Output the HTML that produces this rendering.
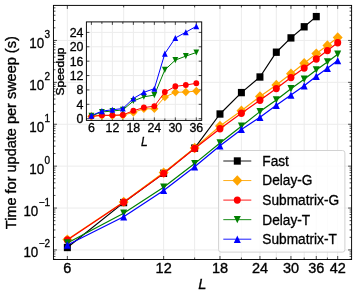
<!DOCTYPE html>
<html><head><meta charset="utf-8"><title>plot</title><style>html,body{margin:0;padding:0;background:#fff}body{width:357px;height:297px;overflow:hidden}</style></head><body>
<svg width="357" height="297" viewBox="0 0 357 297" style="display:block;font-family:'Liberation Sans',sans-serif">
<rect width="357" height="297" fill="#fff"/>
<path d="M67.35 5.4V259.5M123.68 5.4V259.5M163.65 5.4V259.5M194.65 5.4V259.5M219.98 5.4V259.5M241.4 5.4V259.5M259.95 5.4V259.5M276.31 5.4V259.5M290.95 5.4V259.5M304.19 5.4V259.5M316.28 5.4V259.5M327.4 5.4V259.5M337.7 5.4V259.5M53.45 249.95H351.6M53.45 208.05H351.6M53.45 166.15H351.6M53.45 124.25H351.6M53.45 82.35H351.6M53.45 40.45H351.6" stroke="#ececec" stroke-width="1" fill="none"/>
<path d="M67.35 259.5v-3.5M67.35 5.4v3.5M123.68 259.5v-2M123.68 5.4v2M163.65 259.5v-3.5M163.65 5.4v3.5M194.65 259.5v-2M194.65 5.4v2M219.98 259.5v-3.5M219.98 5.4v3.5M241.4 259.5v-2M241.4 5.4v2M259.95 259.5v-3.5M259.95 5.4v3.5M276.31 259.5v-2M276.31 5.4v2M290.95 259.5v-3.5M290.95 5.4v3.5M304.19 259.5v-2M304.19 5.4v2M316.28 259.5v-3.5M316.28 5.4v3.5M327.4 259.5v-2M327.4 5.4v2M337.7 259.5v-3.5M337.7 5.4v3.5M53.45 259.25h2M351.6 259.25h-2M53.45 256.44h2M351.6 256.44h-2M53.45 254.01h2M351.6 254.01h-2M53.45 251.87h2M351.6 251.87h-2M53.45 249.95h3.5M351.6 249.95h-3.5M53.45 237.34h2M351.6 237.34h-2M53.45 229.96h2M351.6 229.96h-2M53.45 224.72h2M351.6 224.72h-2M53.45 220.66h2M351.6 220.66h-2M53.45 217.35h2M351.6 217.35h-2M53.45 214.54h2M351.6 214.54h-2M53.45 212.11h2M351.6 212.11h-2M53.45 209.97h2M351.6 209.97h-2M53.45 208.05h3.5M351.6 208.05h-3.5M53.45 195.44h2M351.6 195.44h-2M53.45 188.06h2M351.6 188.06h-2M53.45 182.82h2M351.6 182.82h-2M53.45 178.76h2M351.6 178.76h-2M53.45 175.45h2M351.6 175.45h-2M53.45 172.64h2M351.6 172.64h-2M53.45 170.21h2M351.6 170.21h-2M53.45 168.07h2M351.6 168.07h-2M53.45 166.15h3.5M351.6 166.15h-3.5M53.45 153.54h2M351.6 153.54h-2M53.45 146.16h2M351.6 146.16h-2M53.45 140.92h2M351.6 140.92h-2M53.45 136.86h2M351.6 136.86h-2M53.45 133.55h2M351.6 133.55h-2M53.45 130.74h2M351.6 130.74h-2M53.45 128.31h2M351.6 128.31h-2M53.45 126.17h2M351.6 126.17h-2M53.45 124.25h3.5M351.6 124.25h-3.5M53.45 111.64h2M351.6 111.64h-2M53.45 104.26h2M351.6 104.26h-2M53.45 99.02h2M351.6 99.02h-2M53.45 94.96h2M351.6 94.96h-2M53.45 91.65h2M351.6 91.65h-2M53.45 88.84h2M351.6 88.84h-2M53.45 86.41h2M351.6 86.41h-2M53.45 84.27h2M351.6 84.27h-2M53.45 82.35h3.5M351.6 82.35h-3.5M53.45 69.74h2M351.6 69.74h-2M53.45 62.36h2M351.6 62.36h-2M53.45 57.12h2M351.6 57.12h-2M53.45 53.06h2M351.6 53.06h-2M53.45 49.75h2M351.6 49.75h-2M53.45 46.94h2M351.6 46.94h-2M53.45 44.51h2M351.6 44.51h-2M53.45 42.37h2M351.6 42.37h-2M53.45 40.45h3.5M351.6 40.45h-3.5M53.45 27.84h2M351.6 27.84h-2M53.45 20.46h2M351.6 20.46h-2M53.45 15.22h2M351.6 15.22h-2M53.45 11.16h2M351.6 11.16h-2M53.45 7.85h2M351.6 7.85h-2" stroke="#111" stroke-width="0.75" fill="none"/>
<polyline points="67.35,247.50 123.68,202.60 163.65,173.30 194.65,148.10 219.98,114.00 241.40,92.60 259.95,77.00 276.31,52.20 290.95,37.90 304.19,26.80 316.28,16.60" fill="none" stroke="#000000" stroke-width="1.2" stroke-linejoin="round"/>
<rect x="63.85" y="243.82" width="7.00" height="7.35" fill="#000000"/>
<rect x="120.18" y="198.92" width="7.00" height="7.35" fill="#000000"/>
<rect x="160.15" y="169.62" width="7.00" height="7.35" fill="#000000"/>
<rect x="191.15" y="144.42" width="7.00" height="7.35" fill="#000000"/>
<rect x="216.48" y="110.33" width="7.00" height="7.35" fill="#000000"/>
<rect x="237.90" y="88.92" width="7.00" height="7.35" fill="#000000"/>
<rect x="256.45" y="73.33" width="7.00" height="7.35" fill="#000000"/>
<rect x="272.81" y="48.53" width="7.00" height="7.35" fill="#000000"/>
<rect x="287.45" y="34.23" width="7.00" height="7.35" fill="#000000"/>
<rect x="300.69" y="23.12" width="7.00" height="7.35" fill="#000000"/>
<rect x="312.78" y="12.93" width="7.00" height="7.35" fill="#000000"/>
<polyline points="67.35,239.60 123.68,201.90 163.65,172.60 194.65,148.00 219.98,126.00 241.40,110.80 259.95,96.50 276.31,85.00 290.95,73.70 304.19,63.20 316.28,53.60 327.40,45.40 337.70,37.50" fill="none" stroke="#FFA500" stroke-width="1.2" stroke-linejoin="round"/>
<polygon points="67.35,234.40 72.30,239.60 67.35,244.80 62.40,239.60" fill="#FFA500"/>
<polygon points="123.68,196.70 128.63,201.90 123.68,207.10 118.73,201.90" fill="#FFA500"/>
<polygon points="163.65,167.40 168.60,172.60 163.65,177.80 158.70,172.60" fill="#FFA500"/>
<polygon points="194.65,142.80 199.60,148.00 194.65,153.20 189.70,148.00" fill="#FFA500"/>
<polygon points="219.98,120.80 224.93,126.00 219.98,131.20 215.03,126.00" fill="#FFA500"/>
<polygon points="241.40,105.60 246.35,110.80 241.40,116.00 236.45,110.80" fill="#FFA500"/>
<polygon points="259.95,91.30 264.90,96.50 259.95,101.70 255.00,96.50" fill="#FFA500"/>
<polygon points="276.31,79.80 281.26,85.00 276.31,90.20 271.36,85.00" fill="#FFA500"/>
<polygon points="290.95,68.50 295.90,73.70 290.95,78.90 286.00,73.70" fill="#FFA500"/>
<polygon points="304.19,58.00 309.14,63.20 304.19,68.40 299.24,63.20" fill="#FFA500"/>
<polygon points="316.28,48.40 321.23,53.60 316.28,58.80 311.33,53.60" fill="#FFA500"/>
<polygon points="327.40,40.20 332.35,45.40 327.40,50.60 322.45,45.40" fill="#FFA500"/>
<polygon points="337.70,32.30 342.64,37.50 337.70,42.70 332.75,37.50" fill="#FFA500"/>
<polyline points="67.35,239.90 123.68,202.30 163.65,173.50 194.65,148.50 219.98,128.70 241.40,113.20 259.95,100.30 276.31,88.60 290.95,77.60 304.19,68.10 316.28,59.00 327.40,50.60 337.70,42.70" fill="none" stroke="#FF0000" stroke-width="1.2" stroke-linejoin="round"/>
<ellipse cx="67.35" cy="239.90" rx="3.50" ry="3.68" fill="#FF0000"/>
<ellipse cx="123.68" cy="202.30" rx="3.50" ry="3.68" fill="#FF0000"/>
<ellipse cx="163.65" cy="173.50" rx="3.50" ry="3.68" fill="#FF0000"/>
<ellipse cx="194.65" cy="148.50" rx="3.50" ry="3.68" fill="#FF0000"/>
<ellipse cx="219.98" cy="128.70" rx="3.50" ry="3.68" fill="#FF0000"/>
<ellipse cx="241.40" cy="113.20" rx="3.50" ry="3.68" fill="#FF0000"/>
<ellipse cx="259.95" cy="100.30" rx="3.50" ry="3.68" fill="#FF0000"/>
<ellipse cx="276.31" cy="88.60" rx="3.50" ry="3.68" fill="#FF0000"/>
<ellipse cx="290.95" cy="77.60" rx="3.50" ry="3.68" fill="#FF0000"/>
<ellipse cx="304.19" cy="68.10" rx="3.50" ry="3.68" fill="#FF0000"/>
<ellipse cx="316.28" cy="59.00" rx="3.50" ry="3.68" fill="#FF0000"/>
<ellipse cx="327.40" cy="50.60" rx="3.50" ry="3.68" fill="#FF0000"/>
<ellipse cx="337.70" cy="42.70" rx="3.50" ry="3.68" fill="#FF0000"/>
<polyline points="67.35,243.00 123.68,213.20 163.65,187.20 194.65,163.60 219.98,143.00 241.40,126.20 259.95,111.60 276.31,99.90 290.95,88.70 304.19,79.20 316.28,69.90 327.40,61.90 337.70,54.30" fill="none" stroke="#008000" stroke-width="1.2" stroke-linejoin="round"/>
<polygon points="67.35,246.68 70.85,239.32 63.85,239.32" fill="#008000"/>
<polygon points="123.68,216.88 127.18,209.52 120.18,209.52" fill="#008000"/>
<polygon points="163.65,190.88 167.15,183.52 160.15,183.52" fill="#008000"/>
<polygon points="194.65,167.28 198.15,159.92 191.15,159.92" fill="#008000"/>
<polygon points="219.98,146.68 223.48,139.32 216.48,139.32" fill="#008000"/>
<polygon points="241.40,129.88 244.90,122.53 237.90,122.53" fill="#008000"/>
<polygon points="259.95,115.27 263.45,107.92 256.45,107.92" fill="#008000"/>
<polygon points="276.31,103.58 279.81,96.23 272.81,96.23" fill="#008000"/>
<polygon points="290.95,92.38 294.45,85.03 287.45,85.03" fill="#008000"/>
<polygon points="304.19,82.88 307.69,75.53 300.69,75.53" fill="#008000"/>
<polygon points="316.28,73.58 319.78,66.23 312.78,66.23" fill="#008000"/>
<polygon points="327.40,65.58 330.90,58.23 323.90,58.23" fill="#008000"/>
<polygon points="337.70,57.97 341.20,50.62 334.20,50.62" fill="#008000"/>
<polyline points="67.35,245.00 123.68,216.70 163.65,190.40 194.65,166.80 219.98,145.80 241.40,129.40 259.95,117.20 276.31,105.20 290.95,95.10 304.19,85.80 316.28,76.30 327.40,68.20 337.70,60.60" fill="none" stroke="#0000FF" stroke-width="1.2" stroke-linejoin="round"/>
<polygon points="67.35,241.32 70.85,248.68 63.85,248.68" fill="#0000FF"/>
<polygon points="123.68,213.02 127.18,220.38 120.18,220.38" fill="#0000FF"/>
<polygon points="163.65,186.72 167.15,194.08 160.15,194.08" fill="#0000FF"/>
<polygon points="194.65,163.12 198.15,170.48 191.15,170.48" fill="#0000FF"/>
<polygon points="219.98,142.12 223.48,149.48 216.48,149.48" fill="#0000FF"/>
<polygon points="241.40,125.73 244.90,133.08 237.90,133.08" fill="#0000FF"/>
<polygon points="259.95,113.53 263.45,120.88 256.45,120.88" fill="#0000FF"/>
<polygon points="276.31,101.53 279.81,108.88 272.81,108.88" fill="#0000FF"/>
<polygon points="290.95,91.42 294.45,98.77 287.45,98.77" fill="#0000FF"/>
<polygon points="304.19,82.12 307.69,89.47 300.69,89.47" fill="#0000FF"/>
<polygon points="316.28,72.62 319.78,79.97 312.78,79.97" fill="#0000FF"/>
<polygon points="327.40,64.53 330.90,71.88 323.90,71.88" fill="#0000FF"/>
<polygon points="337.70,56.93 341.20,64.28 334.20,64.28" fill="#0000FF"/>
<rect x="53.45" y="5.4" width="298.15000000000003" height="254.1" fill="none" stroke="#000" stroke-width="0.95"/>
<text transform="translate(67.35,272.80) scale(1,1.03)" font-size="14.5" text-anchor="middle" stroke="#000" stroke-width="0.35">6</text>
<text transform="translate(163.65,272.80) scale(1,1.03)" font-size="14.5" text-anchor="middle" stroke="#000" stroke-width="0.35">12</text>
<text transform="translate(219.98,272.80) scale(1,1.03)" font-size="14.5" text-anchor="middle" stroke="#000" stroke-width="0.35">18</text>
<text transform="translate(259.95,272.80) scale(1,1.03)" font-size="14.5" text-anchor="middle" stroke="#000" stroke-width="0.35">24</text>
<text transform="translate(290.95,272.80) scale(1,1.03)" font-size="14.5" text-anchor="middle" stroke="#000" stroke-width="0.35">30</text>
<text transform="translate(316.28,272.80) scale(1,1.03)" font-size="14.5" text-anchor="middle" stroke="#000" stroke-width="0.35">36</text>
<text transform="translate(337.70,272.80) scale(1,1.03)" font-size="14.5" text-anchor="middle" stroke="#000" stroke-width="0.35">42</text>
<text transform="translate(50.05,247.35) scale(1,1.06)" font-size="10" text-anchor="end" stroke="#000" stroke-width="0.3">−2</text>
<text transform="translate(38.30,257.35) scale(1,1.16)" font-size="13.4" text-anchor="end" stroke="#000" stroke-width="0.3">10</text>
<text transform="translate(50.05,206.05) scale(1,1.06)" font-size="10" text-anchor="end" stroke="#000" stroke-width="0.3">−1</text>
<text transform="translate(38.30,216.05) scale(1,1.16)" font-size="13.4" text-anchor="end" stroke="#000" stroke-width="0.3">10</text>
<text transform="translate(50.05,164.15) scale(1,1.06)" font-size="10" text-anchor="end" stroke="#000" stroke-width="0.3">0</text>
<text transform="translate(44.14,174.15) scale(1,1.16)" font-size="13.4" text-anchor="end" stroke="#000" stroke-width="0.3">10</text>
<text transform="translate(50.05,122.15) scale(1,1.06)" font-size="10" text-anchor="end" stroke="#000" stroke-width="0.3">1</text>
<text transform="translate(44.14,132.15) scale(1,1.16)" font-size="13.4" text-anchor="end" stroke="#000" stroke-width="0.3">10</text>
<text transform="translate(50.05,80.45) scale(1,1.06)" font-size="10" text-anchor="end" stroke="#000" stroke-width="0.3">2</text>
<text transform="translate(44.14,90.45) scale(1,1.16)" font-size="13.4" text-anchor="end" stroke="#000" stroke-width="0.3">10</text>
<text transform="translate(50.05,37.85) scale(1,1.06)" font-size="10" text-anchor="end" stroke="#000" stroke-width="0.3">3</text>
<text transform="translate(44.14,47.85) scale(1,1.16)" font-size="13.4" text-anchor="end" stroke="#000" stroke-width="0.3">10</text>
<text transform="translate(202.30,288.60) scale(1,0.96)" font-size="14.67" text-anchor="middle" font-style="italic" stroke="#000" stroke-width="0.3">L</text>
<text transform="translate(16.20,132.70) rotate(-90) scale(1,1)" font-size="14.5" text-anchor="middle" stroke="#000" stroke-width="0.35">Time for update per sweep (s)</text>
<rect x="86.4" y="21.9" width="115.29999999999998" height="98.5" fill="#fff"/>
<path d="M91.4 21.9V120.4M101.89 21.9V120.4M112.38 21.9V120.4M122.87 21.9V120.4M133.36 21.9V120.4M143.86 21.9V120.4M154.35 21.9V120.4M164.84 21.9V120.4M175.33 21.9V120.4M185.82 21.9V120.4M196.31 21.9V120.4M86.4 118.7H201.7M86.4 104.32H201.7M86.4 89.93H201.7M86.4 75.55H201.7M86.4 61.16H201.7M86.4 46.78H201.7M86.4 32.4H201.7" stroke="#ececec" stroke-width="1" fill="none"/>
<path d="M91.4 120.4v-3M91.4 21.9v3M101.89 120.4v-2M101.89 21.9v2M112.38 120.4v-3M112.38 21.9v3M122.87 120.4v-2M122.87 21.9v2M133.36 120.4v-3M133.36 21.9v3M143.86 120.4v-2M143.86 21.9v2M154.35 120.4v-3M154.35 21.9v3M164.84 120.4v-2M164.84 21.9v2M175.33 120.4v-3M175.33 21.9v3M185.82 120.4v-2M185.82 21.9v2M196.31 120.4v-3M196.31 21.9v3M86.4 118.7h3M201.7 118.7h-3M86.4 104.32h3M201.7 104.32h-3M86.4 89.93h3M201.7 89.93h-3M86.4 75.55h3M201.7 75.55h-3M86.4 61.16h3M201.7 61.16h-3M86.4 46.78h3M201.7 46.78h-3M86.4 32.4h3M201.7 32.4h-3" stroke="#111" stroke-width="0.75" fill="none"/>
<polyline points="91.40,116.40 101.89,115.40 112.38,115.40 122.87,115.20 133.36,112.40 143.86,108.80 154.35,108.80 164.84,97.00 175.33,92.30 185.82,92.00 196.31,91.10" fill="none" stroke="#FFA500" stroke-width="1" stroke-linejoin="round"/>
<polygon points="91.40,112.09 95.50,116.40 91.40,120.71 87.30,116.40" fill="#FFA500"/>
<polygon points="101.89,111.09 105.99,115.40 101.89,119.71 97.79,115.40" fill="#FFA500"/>
<polygon points="112.38,111.09 116.48,115.40 112.38,119.71 108.28,115.40" fill="#FFA500"/>
<polygon points="122.87,110.89 126.97,115.20 122.87,119.51 118.77,115.20" fill="#FFA500"/>
<polygon points="133.36,108.09 137.46,112.40 133.36,116.71 129.26,112.40" fill="#FFA500"/>
<polygon points="143.86,104.49 147.96,108.80 143.86,113.11 139.75,108.80" fill="#FFA500"/>
<polygon points="154.35,104.49 158.45,108.80 154.35,113.11 150.25,108.80" fill="#FFA500"/>
<polygon points="164.84,92.69 168.94,97.00 164.84,101.31 160.74,97.00" fill="#FFA500"/>
<polygon points="175.33,87.99 179.43,92.30 175.33,96.61 171.23,92.30" fill="#FFA500"/>
<polygon points="185.82,87.69 189.92,92.00 185.82,96.31 181.72,92.00" fill="#FFA500"/>
<polygon points="196.31,86.79 200.41,91.10 196.31,95.41 192.21,91.10" fill="#FFA500"/>
<polyline points="91.40,116.30 101.89,115.30 112.38,115.30 122.87,114.90 133.36,110.70 143.86,107.60 154.35,106.20 164.84,92.10 175.33,86.40 185.82,85.00 196.31,83.30" fill="none" stroke="#FF0000" stroke-width="1" stroke-linejoin="round"/>
<ellipse cx="91.40" cy="116.30" rx="2.90" ry="3.04" fill="#FF0000"/>
<ellipse cx="101.89" cy="115.30" rx="2.90" ry="3.04" fill="#FF0000"/>
<ellipse cx="112.38" cy="115.30" rx="2.90" ry="3.04" fill="#FF0000"/>
<ellipse cx="122.87" cy="114.90" rx="2.90" ry="3.04" fill="#FF0000"/>
<ellipse cx="133.36" cy="110.70" rx="2.90" ry="3.04" fill="#FF0000"/>
<ellipse cx="143.86" cy="107.60" rx="2.90" ry="3.04" fill="#FF0000"/>
<ellipse cx="154.35" cy="106.20" rx="2.90" ry="3.04" fill="#FF0000"/>
<ellipse cx="164.84" cy="92.10" rx="2.90" ry="3.04" fill="#FF0000"/>
<ellipse cx="175.33" cy="86.40" rx="2.90" ry="3.04" fill="#FF0000"/>
<ellipse cx="185.82" cy="85.00" rx="2.90" ry="3.04" fill="#FF0000"/>
<ellipse cx="196.31" cy="83.30" rx="2.90" ry="3.04" fill="#FF0000"/>
<polyline points="91.40,115.90 101.89,112.00 112.38,111.00 122.87,109.90 133.36,101.00 143.86,96.80 154.35,95.10 164.84,69.90 175.33,60.10 185.82,56.10 196.31,52.50" fill="none" stroke="#008000" stroke-width="1" stroke-linejoin="round"/>
<polygon points="91.40,118.95 94.30,112.86 88.50,112.86" fill="#008000"/>
<polygon points="101.89,115.05 104.79,108.95 98.99,108.95" fill="#008000"/>
<polygon points="112.38,114.05 115.28,107.95 109.48,107.95" fill="#008000"/>
<polygon points="122.87,112.95 125.77,106.86 119.97,106.86" fill="#008000"/>
<polygon points="133.36,104.05 136.26,97.95 130.46,97.95" fill="#008000"/>
<polygon points="143.86,99.84 146.76,93.75 140.96,93.75" fill="#008000"/>
<polygon points="154.35,98.14 157.25,92.05 151.45,92.05" fill="#008000"/>
<polygon points="164.84,72.95 167.74,66.86 161.94,66.86" fill="#008000"/>
<polygon points="175.33,63.15 178.23,57.05 172.43,57.05" fill="#008000"/>
<polygon points="185.82,59.15 188.72,53.05 182.92,53.05" fill="#008000"/>
<polygon points="196.31,55.55 199.21,49.45 193.41,49.45" fill="#008000"/>
<polyline points="91.40,115.60 101.89,111.10 112.38,109.80 122.87,108.50 133.36,98.50 143.86,92.30 154.35,88.70 164.84,53.60 175.33,38.00 185.82,32.20 196.31,26.30" fill="none" stroke="#0000FF" stroke-width="1" stroke-linejoin="round"/>
<polygon points="91.40,112.55 94.30,118.64 88.50,118.64" fill="#0000FF"/>
<polygon points="101.89,108.05 104.79,114.14 98.99,114.14" fill="#0000FF"/>
<polygon points="112.38,106.75 115.28,112.84 109.48,112.84" fill="#0000FF"/>
<polygon points="122.87,105.45 125.77,111.55 119.97,111.55" fill="#0000FF"/>
<polygon points="133.36,95.45 136.26,101.55 130.46,101.55" fill="#0000FF"/>
<polygon points="143.86,89.25 146.76,95.34 140.96,95.34" fill="#0000FF"/>
<polygon points="154.35,85.66 157.25,91.75 151.45,91.75" fill="#0000FF"/>
<polygon points="164.84,50.55 167.74,56.65 161.94,56.65" fill="#0000FF"/>
<polygon points="175.33,34.95 178.23,41.05 172.43,41.05" fill="#0000FF"/>
<polygon points="185.82,29.16 188.72,35.25 182.92,35.25" fill="#0000FF"/>
<polygon points="196.31,23.26 199.21,29.34 193.41,29.34" fill="#0000FF"/>
<rect x="86.4" y="21.9" width="115.29999999999998" height="98.5" fill="none" stroke="#000" stroke-width="0.95"/>
<text transform="translate(91.40,132.20) scale(1,1.0)" font-size="12.4" text-anchor="middle" stroke="#000" stroke-width="0.3">6</text>
<text transform="translate(112.38,132.20) scale(1,1.0)" font-size="12.4" text-anchor="middle" stroke="#000" stroke-width="0.3">12</text>
<text transform="translate(133.36,132.20) scale(1,1.0)" font-size="12.4" text-anchor="middle" stroke="#000" stroke-width="0.3">18</text>
<text transform="translate(154.35,132.20) scale(1,1.0)" font-size="12.4" text-anchor="middle" stroke="#000" stroke-width="0.3">24</text>
<text transform="translate(175.33,132.20) scale(1,1.0)" font-size="12.4" text-anchor="middle" stroke="#000" stroke-width="0.3">30</text>
<text transform="translate(196.31,132.20) scale(1,1.0)" font-size="12.4" text-anchor="middle" stroke="#000" stroke-width="0.3">36</text>
<text transform="translate(83.50,123.10) scale(1,1.0)" font-size="12.4" text-anchor="end" stroke="#000" stroke-width="0.3">0</text>
<text transform="translate(83.50,108.72) scale(1,1.0)" font-size="12.4" text-anchor="end" stroke="#000" stroke-width="0.3">4</text>
<text transform="translate(83.50,94.33) scale(1,1.0)" font-size="12.4" text-anchor="end" stroke="#000" stroke-width="0.3">8</text>
<text transform="translate(83.50,79.95) scale(1,1.0)" font-size="12.4" text-anchor="end" stroke="#000" stroke-width="0.3">12</text>
<text transform="translate(83.50,65.56) scale(1,1.0)" font-size="12.4" text-anchor="end" stroke="#000" stroke-width="0.3">16</text>
<text transform="translate(83.50,51.18) scale(1,1.0)" font-size="12.4" text-anchor="end" stroke="#000" stroke-width="0.3">20</text>
<text transform="translate(83.50,36.80) scale(1,1.0)" font-size="12.4" text-anchor="end" stroke="#000" stroke-width="0.3">24</text>
<text transform="translate(144.30,145.60) scale(1,1.0)" font-size="12" text-anchor="middle" font-style="italic" stroke="#000" stroke-width="0.3">L</text>
<text transform="translate(63.70,71.50) rotate(-90) scale(1.12,1)" font-size="10.7" text-anchor="middle" stroke="#000" stroke-width="0.4">Speedup</text>
<rect x="218.6" y="150.5" width="126.3" height="101.6" rx="2.4" fill="#fff" fill-opacity="0.8" stroke="#d2d2d2" stroke-width="1"/>
<path d="M223.3 161.00H251.3" stroke="#000000" stroke-width="0.9" fill="none"/>
<rect x="233.80" y="157.32" width="7.00" height="7.35" fill="#000000"/>
<text transform="translate(262.30,165.90) scale(1,1.04)" font-size="13.7" text-anchor="start" stroke="#000" stroke-width="0.3">Fast</text>
<path d="M223.3 180.55H251.3" stroke="#FFA500" stroke-width="0.9" fill="none"/>
<polygon points="237.30,175.35 242.25,180.55 237.30,185.75 232.35,180.55" fill="#FFA500"/>
<text transform="translate(262.30,185.45) scale(1,1.04)" font-size="13.7" text-anchor="start" stroke="#000" stroke-width="0.3">Delay-G</text>
<path d="M223.3 200.10H251.3" stroke="#FF0000" stroke-width="0.9" fill="none"/>
<ellipse cx="237.30" cy="200.10" rx="3.50" ry="3.68" fill="#FF0000"/>
<text transform="translate(262.30,205.00) scale(1,1.04)" font-size="13.7" text-anchor="start" stroke="#000" stroke-width="0.3">Submatrix-G</text>
<path d="M223.3 219.65H251.3" stroke="#008000" stroke-width="0.9" fill="none"/>
<polygon points="237.30,223.33 240.80,215.97 233.80,215.97" fill="#008000"/>
<text transform="translate(262.30,224.55) scale(1,1.04)" font-size="13.7" text-anchor="start" stroke="#000" stroke-width="0.3">Delay-T</text>
<path d="M223.3 239.20H251.3" stroke="#0000FF" stroke-width="0.9" fill="none"/>
<polygon points="237.30,235.52 240.80,242.88 233.80,242.88" fill="#0000FF"/>
<text transform="translate(262.30,244.10) scale(1,1.04)" font-size="13.7" text-anchor="start" stroke="#000" stroke-width="0.3">Submatrix-T</text>
</svg>
</body></html>
